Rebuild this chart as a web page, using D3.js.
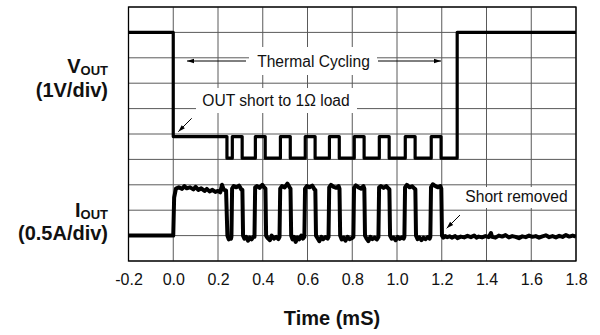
<!DOCTYPE html>
<html><head><meta charset="utf-8">
<script src="https://cdn.jsdelivr.net/npm/d3@7"></script>
<style>body{margin:0;background:#fff}svg{display:block}text{font-family:Arial,"Liberation Sans",sans-serif;fill:#111}</style>
</head><body><svg id="c" width="600" height="335"></svg>
<script>
// ---- data (time in ms, amplitude in scope divisions from bottom) ----
const timeTicks = [-0.2, 0.0, 0.2, 0.4, 0.6, 0.8, 1.0, 1.2, 1.4, 1.6, 1.8];
const gridDivs = [0, 1, 2, 3, 4, 5, 6, 7, 8, 9, 10];

const voutTrace = [
  [-0.2, 9], [0.0, 9], [0.0, 4.9], [0.240, 4.9], [0.240, 4.05],
  [0.264, 4.05], [0.264, 4.9], [0.308, 4.9], [0.308, 4.05],
  [0.367, 4.05], [0.367, 4.9], [0.411, 4.9], [0.411, 4.05],
  [0.479, 4.05], [0.479, 4.9], [0.523, 4.9], [0.523, 4.05],
  [0.590, 4.05], [0.590, 4.9], [0.634, 4.9], [0.634, 4.05],
  [0.698, 4.05], [0.698, 4.9], [0.742, 4.9], [0.742, 4.05],
  [0.809, 4.05], [0.809, 4.9], [0.853, 4.9], [0.853, 4.05],
  [0.921, 4.05], [0.921, 4.9], [0.965, 4.9], [0.965, 4.05],
  [1.037, 4.05], [1.037, 4.9], [1.081, 4.9], [1.081, 4.05],
  [1.153, 4.05], [1.153, 4.9], [1.197, 4.9], [1.197, 4.05],
  [1.269, 4.05], [1.269, 9], [1.8, 9]
];

const ioutTrace = [
  [-0.2, 1.0], [0.0, 1.0], [0.004, 2.5], [0.012, 2.85], [0.025, 2.9], [0.04, 2.84], [0.05, 2.95],
  [0.06, 2.86], [0.075, 2.9], [0.09, 2.82], [0.1, 2.92], [0.112, 2.8], [0.125, 2.86], [0.14, 2.76],
  [0.15, 2.84], [0.162, 2.74], [0.175, 2.8], [0.188, 2.72], [0.2, 2.76], [0.21, 2.7], [0.218, 3.0],
  [0.226, 2.8], [0.236, 2.78], [0.242, 1.0], [0.248, 0.85], [0.254, 0.92], [0.258, 0.88],
  [0.260, 0.95], [0.263, 2.85], [0.27, 2.95], [0.282, 2.9], [0.294, 2.97], [0.304, 2.82], [0.309, 2.8], [0.312, 1.0],
  [0.318, 0.88], [0.326, 0.95], [0.334, 0.8], [0.342, 0.92], [0.35, 0.85], [0.358, 0.95],
  [0.363, 0.95], [0.366, 2.9], [0.374, 2.95], [0.386, 2.88], [0.398, 3.0], [0.408, 2.88], [0.412, 2.85], [0.415, 1.0],
  [0.422, 0.9], [0.432, 0.82], [0.44, 1.0], [0.45, 0.88], [0.46, 0.95], [0.47, 0.86],
  [0.475, 0.95], [0.478, 2.85], [0.486, 2.95], [0.498, 2.9], [0.51, 3.05], [0.52, 2.9], [0.524, 2.85], [0.527, 1.0],
  [0.533, 0.85], [0.54, 0.95], [0.547, 0.75], [0.555, 0.92], [0.563, 0.85], [0.572, 1.0], [0.58, 0.88],
  [0.586, 0.95], [0.589, 2.85], [0.597, 2.95], [0.609, 2.9], [0.621, 2.97], [0.631, 2.82], [0.635, 2.8], [0.638, 1.0],
  [0.645, 0.9], [0.653, 0.78], [0.662, 0.95], [0.67, 0.86], [0.68, 0.94], [0.69, 0.88],
  [0.694, 0.95], [0.697, 2.9], [0.705, 3.0], [0.717, 2.92], [0.729, 2.88], [0.739, 2.95], [0.743, 2.85], [0.746, 1.0],
  [0.753, 0.85], [0.762, 0.92], [0.77, 0.8], [0.779, 0.95], [0.788, 0.86], [0.798, 0.9],
  [0.805, 0.95], [0.808, 2.88], [0.816, 2.98], [0.828, 2.9], [0.84, 2.85], [0.85, 2.95], [0.854, 2.85], [0.857, 1.0],
  [0.864, 0.88], [0.872, 0.78], [0.881, 0.95], [0.89, 0.86], [0.9, 0.92], [0.91, 0.85],
  [0.917, 0.95], [0.92, 2.9], [0.928, 2.95], [0.94, 2.88], [0.952, 2.95], [0.962, 2.85], [0.966, 2.82], [0.969, 1.0],
  [0.976, 0.88], [0.985, 0.92], [0.994, 0.82], [1.003, 0.95], [1.012, 0.87], [1.022, 0.93], [1.03, 0.88],
  [1.033, 0.95], [1.036, 2.9], [1.044, 3.0], [1.056, 2.9], [1.068, 2.94], [1.078, 2.85], [1.082, 2.82], [1.085, 1.0],
  [1.092, 0.86], [1.1, 0.93], [1.109, 0.82], [1.118, 0.92], [1.127, 0.86], [1.137, 0.94], [1.146, 0.88],
  [1.149, 0.95], [1.152, 2.9], [1.16, 3.02], [1.172, 2.95], [1.184, 2.9], [1.194, 2.95], [1.198, 2.85], [1.201, 1.0],
  [1.207, 0.92], [1.215, 0.98], [1.225, 0.94], [1.235, 0.97], [1.245, 0.92], [1.26, 0.98], [1.27, 0.9],
  [1.285, 0.96], [1.3, 0.93], [1.315, 0.99], [1.33, 0.94], [1.345, 1.0], [1.355, 0.92], [1.365, 0.96],
  [1.38, 0.93], [1.395, 0.98], [1.41, 0.94], [1.42, 1.1], [1.425, 0.95], [1.44, 0.92], [1.455, 1.0],
  [1.47, 0.96], [1.485, 1.02], [1.5, 0.93], [1.515, 0.98], [1.53, 0.95], [1.545, 0.9], [1.56, 0.97],
  [1.575, 0.94], [1.59, 1.0], [1.605, 0.95], [1.62, 0.98], [1.635, 0.92], [1.65, 0.97], [1.665, 1.01],
  [1.68, 0.94], [1.695, 0.98], [1.71, 0.93], [1.725, 0.99], [1.74, 0.95], [1.755, 1.02], [1.77, 0.96],
  [1.785, 1.0], [1.8, 0.96]
];

// ---- layout ----
const svg = d3.select("#c");
const L = 128.5, R = 576, T = 7, B = 261;
const x = d3.scaleLinear().domain([-0.2, 1.8]).range([L, R]);
const y = d3.scaleLinear().domain([0, 10]).range([B, T]);

svg.append("defs").append("clipPath").attr("id", "clip")
  .append("rect").attr("x", L).attr("y", T).attr("width", R - L).attr("height", B - T);

// grid
const grid = svg.append("g").attr("stroke", "#5a5a5a").attr("stroke-width", 1);
grid.selectAll(".v").data(timeTicks).join("line")
  .attr("x1", d => x(d)).attr("x2", d => x(d)).attr("y1", T).attr("y2", B);
grid.selectAll(".h").data(gridDivs).join("line")
  .attr("x1", L).attr("x2", R).attr("y1", d => y(d)).attr("y2", d => y(d));

// white label backgrounds
const boxes = [
  {x0: 249, x1: 377, y0: 47, y1: 75},
  {x0: 196, x1: 357, y0: 88, y1: 113},
  {x0: 461, x1: 572, y0: 187, y1: 208}
];
svg.append("g").selectAll("rect").data(boxes).join("rect")
  .attr("x", d => d.x0).attr("y", d => d.y0)
  .attr("width", d => d.x1 - d.x0).attr("height", d => d.y1 - d.y0)
  .attr("fill", "#fff");

// traces
const line = d3.line().x(d => x(d[0])).y(d => y(d[1]));
const traces = svg.append("g").attr("clip-path", "url(#clip)");
traces.append("path").datum(voutTrace).attr("d", line)
  .attr("fill", "none").attr("stroke", "#000").attr("stroke-width", 3.2)
  .attr("stroke-linejoin", "round");
traces.append("path").datum(ioutTrace).attr("d", line)
  .attr("fill", "none").attr("stroke", "#000").attr("stroke-width", 4)
  .attr("stroke-linejoin", "round");

// frame
svg.append("rect").attr("x", L).attr("y", T).attr("width", R - L).attr("height", B - T)
  .attr("fill", "none").attr("stroke", "#000").attr("stroke-width", 1.3);

// x axis labels
const xAxis = d3.axisBottom(x).tickValues(timeTicks).tickSize(0).tickPadding(0)
  .tickFormat(d => d3.format(".1f")(d).replace("\u2212", "-"));
const ax = svg.append("g").attr("transform", `translate(0,${B})`).call(xAxis);
ax.select(".domain").remove();
ax.selectAll("text").attr("font-size", 16).attr("fill", "#111")
  .attr("font-family", "Arial, 'Liberation Sans', sans-serif")
  .attr("dy", null).attr("y", 24);

svg.append("text").attr("x", 332).attr("y", 325).attr("text-anchor", "middle")
  .attr("font-size", 20).attr("font-weight", "bold").text("Time (mS)");

// left labels
const vl = svg.append("text").attr("x", 108).attr("y", 73).attr("text-anchor", "end")
  .attr("font-size", 20).attr("font-weight", "bold");
vl.append("tspan").text("V");
vl.append("tspan").attr("font-size", 13).attr("dy", 2).text("OUT");
svg.append("text").attr("x", 108).attr("y", 97).attr("text-anchor", "end")
  .attr("font-size", 20).attr("font-weight", "bold").text("(1V/div)");
const il = svg.append("text").attr("x", 108).attr("y", 217).attr("text-anchor", "end")
  .attr("font-size", 20).attr("font-weight", "bold");
il.append("tspan").text("I");
il.append("tspan").attr("font-size", 13).attr("dy", 2).text("OUT");
svg.append("text").attr("x", 108).attr("y", 240).attr("text-anchor", "end")
  .attr("font-size", 20).attr("font-weight", "bold").text("(0.5A/div)");

// annotations
svg.append("text").attr("x", 313.5).attr("y", 66.5).attr("text-anchor", "middle")
  .attr("font-size", 15.6).text("Thermal Cycling");
svg.append("text").attr("x", 276).attr("y", 105.5).attr("text-anchor", "middle")
  .attr("font-size", 15.6).text("OUT short to 1\u03A9 load");
svg.append("text").attr("x", 516.5).attr("y", 202).attr("text-anchor", "middle")
  .attr("font-size", 15.6).text("Short removed");

function arrow(x1, y1, x2, y2) {
  const g = svg.append("g");
  g.append("line").attr("x1", x1).attr("y1", y1).attr("x2", x2).attr("y2", y2)
    .attr("stroke", "#000").attr("stroke-width", 1);
  const a = Math.atan2(y2 - y1, x2 - x1), len = 7, w = 2.2;
  const bx = x2 - len * Math.cos(a), by = y2 - len * Math.sin(a);
  const px = -Math.sin(a) * w, py = Math.cos(a) * w;
  g.append("path").attr("d", `M${x2},${y2}L${bx + px},${by + py}L${bx - px},${by - py}Z`).attr("fill", "#000");
}
arrow(246, 61, 187, 61);
arrow(378, 61, 441, 61);
arrow(191.7, 118.3, 178.3, 131.7);
arrow(460, 215, 446.7, 228.3);
</script></body></html>
